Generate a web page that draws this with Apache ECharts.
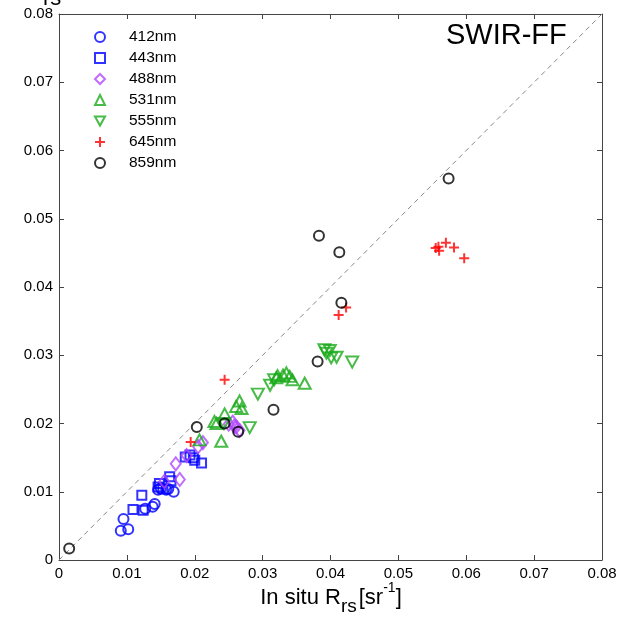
<!DOCTYPE html>
<html><head><meta charset="utf-8">
<script src="https://cdn.jsdelivr.net/npm/echarts@6/dist/echarts.min.js"></script>
<style>html,body{margin:0;padding:0;background:#fff}#c{width:634px;height:622px}</style>
</head><body><div id="c"></div>
<script>
const bandNames = ['412nm','443nm','488nm','531nm','555nm','645nm','859nm'];
const xTicks = [0,0.01,0.02,0.03,0.04,0.05,0.06,0.07,0.08];
const s412 = [[0.0091,0.0043],[0.0095,0.0060],[0.0102,0.0045],[0.0127,0.0075],[0.0138,0.0078],[0.0141,0.0082],[0.0146,0.0103],[0.0150,0.0105],[0.0158,0.0103],[0.0161,0.0104],[0.0169,0.0100]];
const s443 = [[0.0109,0.0074],[0.0124,0.0073],[0.0122,0.0095],[0.0146,0.0107],[0.0148,0.0112],[0.0153,0.0104],[0.0163,0.0122],[0.0165,0.0116],[0.0186,0.0151],[0.0193,0.0154],[0.0198,0.0150],[0.0200,0.0146],[0.0210,0.0142]];
const s488 = [[0.0155,0.0115],[0.0178,0.0118],[0.0172,0.0141],[0.0188,0.0153],[0.0205,0.0166],[0.0212,0.0172],[0.0250,0.0199],[0.0256,0.0202],[0.0261,0.0195],[0.0266,0.0190],[0.0258,0.0196]];
const s531 = [[0.0207,0.0176],[0.0239,0.0174],[0.0232,0.0200],[0.0229,0.0203],[0.0244,0.0214],[0.0261,0.0225],[0.0266,0.0233],[0.0269,0.0222],[0.0322,0.0270],[0.0330,0.0271],[0.0335,0.0274],[0.0340,0.0269],[0.0344,0.0264],[0.0320,0.0267],[0.0362,0.0259]];
const s555 = [[0.0243,0.0200],[0.0281,0.0194],[0.0293,0.0243],[0.0311,0.0256],[0.0317,0.0264],[0.0391,0.0308],[0.0399,0.0307],[0.0394,0.0303],[0.0401,0.0296],[0.0409,0.0297],[0.0432,0.0290]];
const s645 = [[0.0194,0.0173],[0.0244,0.0264],[0.0412,0.0359],[0.0423,0.0370],[0.0555,0.0457],[0.0560,0.0453],[0.0559,0.0459],[0.0570,0.0465],[0.0582,0.0458],[0.0597,0.0442]];
const s859 = [[0.0015,0.0017],[0.0203,0.0195],[0.0244,0.0200],[0.0264,0.0188],[0.0316,0.0220],[0.0381,0.0291],[0.0383,0.0475],[0.0413,0.0451],[0.0416,0.0377],[0.0574,0.0559]];
const oneToOne = [[0,0],[0.08,0.08]];

const FONT = '"Liberation Sans", Arial, sans-serif';
const colors = ['#0000ff','#0000ff','#b146ff','#1aaa1a','#1aaa1a','#ff0000','#000000'];
const DOWN = 'path://M0,0L12,0L6,11Z';
const PLUS = 'path://M5,0L5,10M0,5L10,5';
const symbols = ['circle','rect','diamond','triangle',DOWN,PLUS,'circle'];
const sizes = [10,9,[10,13],[12,11],[12,11],10,10];
const datas = [s412,s443,s488,s531,s555,s645,s859];

const chart = echarts.init(document.getElementById('c'), null, {renderer:'canvas'});
const series = bandNames.map((n,i)=>({
  name:n, type:'scatter', data:datas[i], symbol:symbols[i], symbolSize:sizes[i],
  itemStyle:{color:'rgba(0,0,0,0)', borderColor:colors[i], borderWidth: 2},
  emphasis:{disabled:true}, z:3
}));
series.unshift({type:'line', data:oneToOne, showSymbol:false, silent:true,
  lineStyle:{color:'#888', width:1, type:[5,4]}, z:2});

const ctx = document.createElement('canvas').getContext('2d');
function tw(t,s){ctx.font = s+'px "Liberation Sans"'; return ctx.measureText(t).width;}
const parts = [
  {t:'In situ R', s:22, dy:0},
  {t:'rs', s:19, dy:9},
  {t:'[sr', s:22, dy:0, pre:2},
  {t:'-1', s:14, dy:-9},
  {t:']', s:22, dy:0}
];
let total = 0; parts.forEach(p=>{total += (p.pre||0) + tw(p.t,p.s);});
let cx = 331 - total/2;
const graphics = [];
parts.forEach(p=>{
  cx += (p.pre||0);
  graphics.push({type:'text', x:cx, y:597.5+p.dy, style:{text:p.t, font:p.s+'px '+FONT, fill:'#000', verticalAlign:'middle', align:'left'}});
  cx += tw(p.t,p.s);
});
graphics.push({type:'text', x:446, y:36, style:{text:'SWIR-FF', font:'29px '+FONT, fill:'#000', verticalAlign:'middle', align:'left'}});
graphics.push({type:'text', x:43, y:-1, style:{text:'rs', font:'22px '+FONT, fill:'#000', verticalAlign:'middle', align:'left'}});

const axCommon = {min:0, max:0.08, interval:0.01, splitLine:{show:false},
  axisLine:{show:true, onZero:false, lineStyle:{color:'#444', width:1}},
  axisTick:{inside:true, length:5, lineStyle:{color:'#444'}}};
const lbl = {fontFamily:FONT, fontSize:15, color:'#000', formatter:v=>String(+v.toFixed(2))};

chart.setOption({
  animation:false,
  grid:{left:59, right:32, top:14, bottom:62},
  xAxis:[
    Object.assign({type:'value', position:'bottom', axisLabel:Object.assign({margin:6}, lbl)}, axCommon),
    Object.assign({type:'value', position:'top', axisLabel:{show:false}}, axCommon)
  ],
  yAxis:[
    Object.assign({type:'value', position:'left', axisLabel:Object.assign({margin:6}, lbl)}, axCommon),
    Object.assign({type:'value', position:'right', axisLabel:{show:false}}, axCommon)
  ],
  legend:{data:bandNames, orient:'vertical', left:89, top:24, itemWidth:10, itemHeight:10, itemGap:5,
    selectedMode:false, textStyle:{fontFamily:FONT, fontSize:15.5, color:'#000', padding:[0,0,0,19], lineHeight:10}},
  series:series,
  graphic:graphics
});
</script></body></html>
